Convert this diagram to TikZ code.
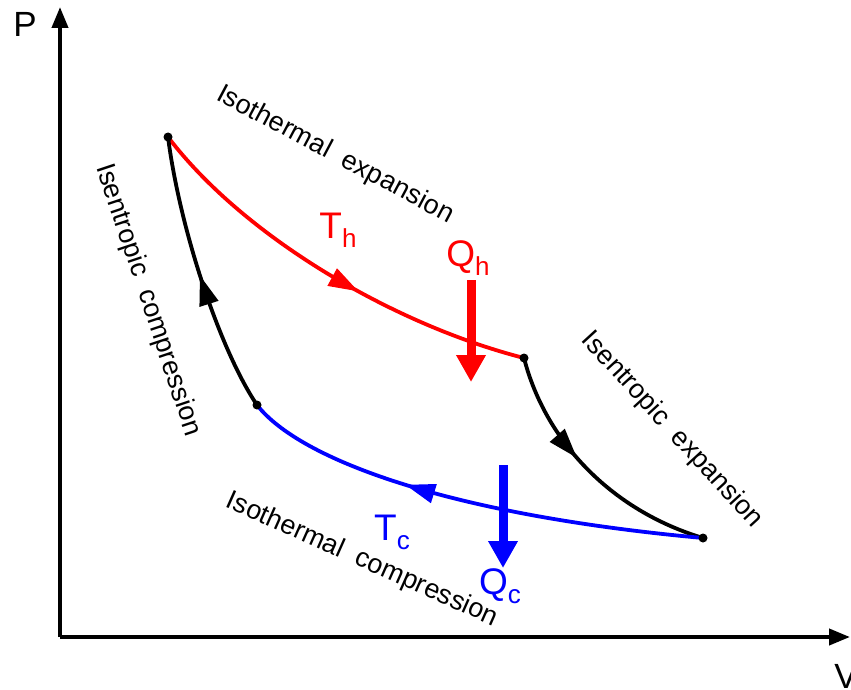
\documentclass[tikz,border=0pt]{standalone}
\usepackage{fontspec}
\setmainfont{Liberation Sans}
\usetikzlibrary{arrows.meta,decorations.markings}
\newcommand{\heatlabel}[2]{\fontsize{37}{40}\selectfont #1\raisebox{-9pt}{\fontsize{26}{28}\selectfont #2}}

\tikzset{
  axis/.style={line width=4pt,-{Triangle[length=21pt,width=16pt]}},
  stroke/.style={line width=3.8pt},
  midarrow/.style={postaction={decorate},decoration={markings,
    mark=at position #1 with {\arrow{Triangle[length=30pt,width=19pt]}}}},
  heatflow/.style={line width=9pt,-{Triangle[length=27pt,width=28pt]}},
  curvelabel/.style={font=\fontsize{27}{30}\selectfont,inner sep=0pt},
  statedot/.style={circle,fill=black,inner sep=0pt,minimum size=9pt}
}

\begin{document}
\begin{tikzpicture}[x=1pt,y=-1pt]
\useasboundingbox (0,0) rectangle (851,690);
% axes
\coordinate (O) at (60,637);
\coordinate (Ptip) at (60,7);
\coordinate (Vtip) at (850,637);
\draw[axis] (O) -- (Ptip);
\draw[axis] (O) -- (Vtip);
\node[font=\fontsize{35}{38}\selectfont] (Plab) at (25,24) {P};
\node[font=\fontsize{35}{38}\selectfont] (Vlab) at (846,676) {V};

% corners of the cycle
\coordinate (A) at (168,137);
\coordinate (B) at (524,358);
\coordinate (C) at (703,538);
\coordinate (D) at (257,405);

% the four strokes
\draw[stroke,red,midarrow=0.58] (A) .. controls (245,238) and (395,325) .. (B);
\draw[stroke,midarrow=0.43] (B) .. controls (545,440) and (610,510) .. (C);
\draw[stroke,blue,midarrow=0.64] (C) .. controls (450,515) and (300,460) .. (D);
\draw[stroke,midarrow=0.5] (D) .. controls (220,350) and (180,230) .. (A);
\foreach \p in {A,B,C,D} \node[statedot] at (\p) {};

% heat in and out
\node[red] (Th) at (338,230) {\heatlabel{T}{h}};
\node[red] (Qh) at (468,258) {\heatlabel{Q}{h}};
\coordinate (Qhtop) at (471,280);
\coordinate (Qhbot) at (471,382);
\draw[heatflow,red] (Qhtop) -- (Qhbot);
\node[blue] (Tc) at (392,532) {\heatlabel{T}{c}};
\node[blue] (Qc) at (500,586) {\heatlabel{Q}{c}};
\coordinate (Qctop) at (503,465);
\coordinate (Qcbot) at (503,568);
\draw[heatflow,blue] (Qctop) -- (Qcbot);

% names of the strokes
\node[curvelabel,rotate=-28] (isoexp) at (335,155) {Isothermal\ \ expansion};
\node[curvelabel,rotate=-47.5] (isenexp) at (672,430) {Isentropic\ \ expansion};
\node[curvelabel,rotate=-24] (isocomp) at (362,560) {Isothermal\ \ compression};
\node[curvelabel,rotate=-71.5] (isencomp) at (148,300) {Isentropic\ \ compression};
\end{tikzpicture}
\end{document}
